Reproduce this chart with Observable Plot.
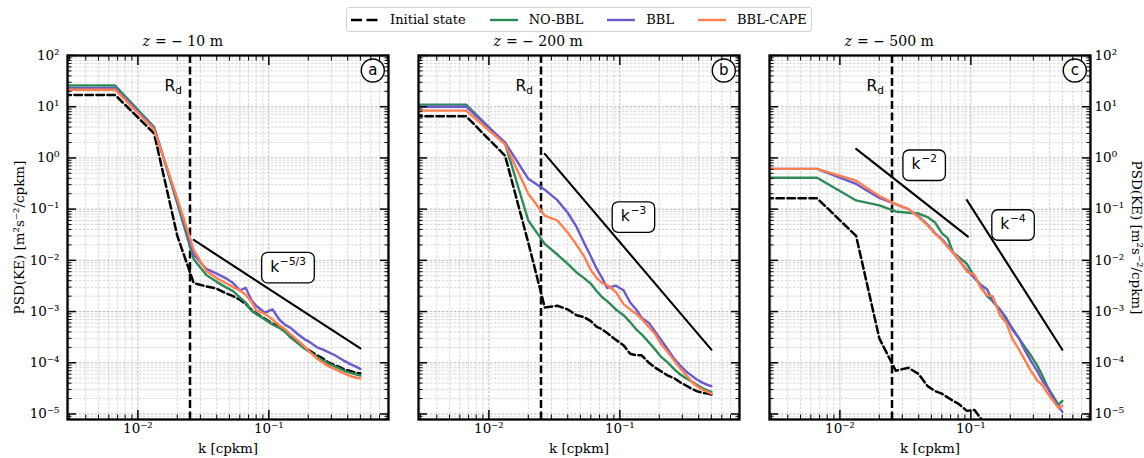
<!DOCTYPE html>
<html>
<head>
<meta charset="utf-8">
<script src="https://cdn.jsdelivr.net/npm/d3@7"></script>
<script src="https://cdn.jsdelivr.net/npm/@observablehq/plot@0.6"></script>
<style>
  html, body { margin: 0; padding: 0; background: #fff; }
  #figure { position: relative; width: 1144px; height: 458px; overflow: hidden; background: #fff; }
  #figure > svg { position: absolute; top: 0; }
  #legend {
    position: absolute; left: 346px; top: 7px; height: 25px; width: 466px; box-sizing: border-box;
    border: 1px solid #d4d4d4; border-radius: 3px; background: #fff;
    display: flex; align-items: center; padding-left: 4px; white-space: nowrap;
    font-family: "DejaVu Serif", serif; font-size: 13px; color: #000;
  }
  #legend .item { display: flex; align-items: center; margin-right: 24px; flex: none; }
  #legend .item svg { margin-right: 11px; flex: none; }
</style>
</head>
<body>
<div id="figure"></div>
<script>
// Wavenumber k [cycles per km]
const k = [0.0027, 0.0067, 0.0133, 0.02, 0.0267, 0.0333, 0.04, 0.0467, 0.0533, 0.06,
  0.0667, 0.0733, 0.08, 0.0933, 0.1067, 0.12, 0.1333, 0.1467, 0.1667, 0.1867,
  0.2067, 0.2333, 0.26, 0.2867, 0.32, 0.3533, 0.3867, 0.4267, 0.4667, 0.5];

// KE spectra at z = -10 m
const init10 = [17, 17, 3.0, 0.03, 0.0036, 0.0031, 0.0028, 0.0023, 0.002, 0.0017,
  0.0014, 0.0011, 0.00092, 0.00072, 0.00058, 0.0005, 0.00042, 0.00033, 0.00026, 0.0002,
  0.00017, 0.00014, 0.00012, 0.0001, 9e-5, 8e-5, 7.2e-5, 6.8e-5, 6.4e-5, 6.2e-5];
const noBbl10 = [26, 26, 4.0, 0.13, 0.0105, 0.0052, 0.0038, 0.003, 0.0025, 0.0019,
  0.0015, 0.00105, 0.0009, 0.0007, 0.00056, 0.00048, 0.0004, 0.00031, 0.00024, 0.00019,
  0.00016, 0.00013, 0.00011, 9.5e-5, 8.5e-5, 7.5e-5, 6.8e-5, 6.3e-5, 5.9e-5, 5.6e-5];
const bbl10 = [23, 23, 3.8, 0.15, 0.013, 0.0068, 0.0055, 0.0045, 0.0036, 0.0026,
  0.0029, 0.0017, 0.0013, 0.00095, 0.0011, 0.0007, 0.00055, 0.00048, 0.00036, 0.00029,
  0.00025, 0.0002, 0.00018, 0.00016, 0.00014, 0.00012, 0.000105, 9.2e-5, 8.3e-5, 7.6e-5];
const cape10 = [21.5, 21.5, 3.6, 0.16, 0.016, 0.0062, 0.0045, 0.0036, 0.003, 0.0026,
  0.0021, 0.0016, 0.00105, 0.0009, 0.0007, 0.00054, 0.00045, 0.00036, 0.00027, 0.00021,
  0.00016, 0.00012, 0.0001, 8.5e-5, 7.5e-5, 6.6e-5, 6e-5, 5.4e-5, 5.1e-5, 4.9e-5];

// KE spectra at z = -200 m
const init200 = [6.5, 6.5, 1.1, 0.022, 0.0012, 0.0013, 0.0011, 0.00085, 0.00078, 0.00065,
  0.0005, 0.00045, 0.00038, 0.00028, 0.00022, 0.00015, 0.00014, 0.00014, 0.0001, 8e-5,
  6.8e-5, 5.6e-5, 5e-5, 4.2e-5, 3.6e-5, 3.1e-5, 2.8e-5, 2.6e-5, 2.5e-5, 2.4e-5];
const noBbl200 = [11, 11, 1.9, 0.06, 0.021, 0.013, 0.0085, 0.0058, 0.0045, 0.0035,
  0.0025, 0.0019, 0.0016, 0.0011, 0.00085, 0.00062, 0.00045, 0.00036, 0.00025, 0.00018,
  0.00013, 0.0001, 7.5e-5, 6e-5, 5e-5, 4.3e-5, 3.7e-5, 3.2e-5, 2.9e-5, 2.7e-5];
const bbl200 = [10, 10, 2.0, 0.39, 0.24, 0.15, 0.085, 0.045, 0.022, 0.012,
  0.0068, 0.0045, 0.0029, 0.0032, 0.0026, 0.0015, 0.0011, 0.00075, 0.0006, 0.0004,
  0.00028, 0.00018, 0.00012, 9e-5, 6.8e-5, 5.6e-5, 4.7e-5, 4.1e-5, 3.7e-5, 3.5e-5];
const cape200 = [8.4, 8.4, 1.85, 0.2, 0.075, 0.06, 0.035, 0.02, 0.012, 0.0065,
  0.0045, 0.0036, 0.0033, 0.0024, 0.0014, 0.0011, 0.0009, 0.00072, 0.0005, 0.00036,
  0.00023, 0.00016, 0.00011, 8e-5, 5.8e-5, 4.3e-5, 3.5e-5, 3e-5, 2.7e-5, 2.5e-5];

// KE spectra at z = -500 m (initial state drops below the axis past k ~ 0.13)
const init500 = [0.163, 0.163, 0.03, 0.0003, 7e-5, 8e-5, 6e-5, 3.5e-5, 2.8e-5, 2.5e-5,
  2.1e-5, 1.8e-5, 1.6e-5, 1.15e-5, 1.2e-5, 8e-6, 5e-6, null, null, null,
  null, null, null, null, null, null, null, null, null, null];
const noBbl500 = [0.41, 0.41, 0.148, 0.118, 0.09, 0.085, 0.082, 0.07, 0.055, 0.034,
  0.027, 0.014, 0.012, 0.0085, 0.0048, 0.003, 0.002, 0.0016, 0.0011, 0.0007,
  0.00048, 0.0003, 0.0002, 0.00014, 9e-5, 5.5e-5, 3.3e-5, 2.2e-5, 1.5e-5, 1.8e-5];
const bbl500 = [0.61, 0.61, 0.31, 0.165, 0.125, 0.1, 0.072, 0.05, 0.034, 0.026,
  0.019, 0.014, 0.0105, 0.0065, 0.0045, 0.0033, 0.0027, 0.0016, 0.0011, 0.00075,
  0.00045, 0.0003, 0.00017, 0.00011, 7e-5, 4.4e-5, 3.2e-5, 2e-5, 1.4e-5, 1.1e-5];
const cape500 = [0.61, 0.61, 0.36, 0.18, 0.125, 0.1, 0.07, 0.048, 0.033, 0.025,
  0.018, 0.014, 0.011, 0.006, 0.0052, 0.0028, 0.0021, 0.002, 0.00085, 0.0006,
  0.0003, 0.00018, 0.00011, 7e-5, 4.6e-5, 3.6e-5, 2.5e-5, 1.8e-5, 1.3e-5, 1.45e-5];

// Power-law reference slopes (end points) and their labels
const refK10 = [0.0267, 0.5],  refV10 = [0.025, 1.9e-4];
const refK200 = [0.0267, 0.5], refV200 = [1.2, 1.8e-4];
const refK500a = [0.0133, 0.095], refV500a = [1.5, 0.029];
const refK500b = [0.0933, 0.5],  refV500b = [0.15, 1.8e-4];
const slopeExp = ["−5/3", "−3", "−2", "−4"];
const slopeLabelK = [0.14, 0.127, 0.044, 0.21];
const slopeLabelV = [0.0072, 0.07, 0.72, 0.049];

// First deformation radius wavenumber
const rossbyK = [0.025];

const seriesNames = ["Initial state", "NO-BBL", "BBL", "BBL-CAPE"];
const seriesColors = ["#000000", "#2e8b57", "#6a5acd", "#ff7f50"];
const depths = [10, 200, 500];
const panelTags = ["a", "b", "c"];
const xLabel = "k [cpkm]";
const yLabel = "PSD(KE) [m²s⁻²/cpkm]";

const xDomain = [0.0029, 0.82];
const yDomain = [7.8e-6, 100];

// ---- helpers -------------------------------------------------------------
const isDecade = t => Math.abs(Math.log10(t) - Math.round(Math.log10(t))) < 1e-6;
const xTicks = d3.scaleLog().domain(xDomain).ticks();
const yTicks = d3.scaleLog().domain(yDomain).ticks();
const xMajor = xTicks.filter(isDecade), xMinor = xTicks.filter(t => !isDecade(t));
const yMajor = yTicks.filter(isDecade), yMinor = yTicks.filter(t => !isDecade(t));

const sup = {"-": "⁻", "0": "⁰", "1": "¹", "2": "²", "3": "³", "4": "⁴", "5": "⁵", "6": "⁶", "7": "⁷", "8": "⁸", "9": "⁹"};
const pow10 = t => "10" + [...String(Math.round(Math.log10(t)))].map(c => sup[c]).join("");

const measureCtx = document.createElement("canvas").getContext("2d");
function textWidth(s, font) { measureCtx.font = font; return measureCtx.measureText(s).width; }

function roundedBox(w, h, r) {
  return {
    draw(c) {
      const x0 = -w / 2, y0 = -h / 2, x1 = w / 2, y1 = h / 2;
      c.moveTo(x0 + r, y0);
      c.lineTo(x1 - r, y0); c.arcTo(x1, y0, x1, y0 + r, r);
      c.lineTo(x1, y1 - r); c.arcTo(x1, y1, x1 - r, y1, r);
      c.lineTo(x0 + r, y1); c.arcTo(x0, y1, x0, y1 - r, r);
      c.lineTo(x0, y0 + r); c.arcTo(x0, y0, x0 + r, y0, r);
      c.closePath();
    }
  };
}

const SANS = "DejaVu Sans";
const SERIF = "DejaVu Serif";
const mid = {lineAnchor: "middle"};

function slopeAnnotation(i) {
  const kSize = 15.5, eSize = 10.5;
  const kW = textWidth("k", `${kSize}px "${SANS}"`);
  const eW = textWidth(slopeExp[i], `${eSize}px "${SANS}"`);
  const total = kW + eW + 1;
  const join = -total / 2 + kW;
  const at = [{k: slopeLabelK[i], v: slopeLabelV[i]}];
  return [
    Plot.dot(at, {x: "k", y: "v", symbol: roundedBox(total + 17, 30.5, 6), fill: "white", stroke: "black", strokeWidth: 1.3}),
    Plot.text(at, {x: "k", y: "v", text: () => "k", textAnchor: "end", ...mid, dx: join, dy: -1, fontFamily: SANS, fontSize: kSize}),
    Plot.text(at, {x: "k", y: "v", text: () => slopeExp[i], textAnchor: "start", ...mid, dx: join + 1, dy: -6.5, fontFamily: SANS, fontSize: eSize})
  ];
}

const rows = (vals) => k.map((kk, i) => ({k: kk, v: vals[i]}));
const refRows = (ks, vs) => ks.map((kk, i) => ({k: kk, v: vs[i]}));

const panels = [
  {series: [init10, noBbl10, bbl10, cape10], refs: [[refK10, refV10]], labels: [0],
   left: 0, width: 403, ml: 67, mr: 15, yAxis: "left"},
  {series: [init200, noBbl200, bbl200, cape200], refs: [[refK200, refV200]], labels: [1],
   left: 403, width: 351, ml: 15, mr: 15, yAxis: null},
  {series: [init500, noBbl500, bbl500, cape500], refs: [[refK500a, refV500a], [refK500b, refV500b]], labels: [2, 3],
   left: 754, width: 390, ml: 15, mr: 54, yAxis: "right"}
];

function drawPanel(p, idx) {
  const gridStyle = {strokeOpacity: 1, strokeWidth: 0.8, strokeDasharray: "2.5,1.5"};
  const marks = [
    Plot.gridX(xMinor, {...gridStyle, stroke: "#cdcdcd"}),
    Plot.gridY(yMinor, {...gridStyle, stroke: "#cdcdcd"}),
    Plot.gridX(xMajor, {...gridStyle, stroke: "#a9a9a9"}),
    Plot.gridY(yMajor, {...gridStyle, stroke: "#a9a9a9"}),
    Plot.ruleX(rossbyK, {stroke: "black", strokeWidth: 2.5, strokeDasharray: "8,3.5"})
  ];
  // spectra
  p.series.forEach((vals, s) => {
    marks.push(Plot.line(rows(vals), {
      x: "k", y: "v", stroke: seriesColors[s], strokeWidth: s === 0 ? 2.5 : 2.4,
      strokeDasharray: s === 0 ? "7.5,3.5" : null, clip: true
    }));
  });
  // reference power laws
  p.refs.forEach(([ks, vs]) => {
    marks.push(Plot.line(refRows(ks, vs), {x: "k", y: "v", stroke: "black", strokeWidth: 2.1, clip: true}));
  });
  p.labels.forEach(i => marks.push(...slopeAnnotation(i)));

  // R_d label next to the dashed line
  const dW = textWidth("d", `10.5px "${SANS}"`);
  marks.push(
    Plot.text(rossbyK, {x: d => d, frameAnchor: "top", dy: 31, dx: -8 - dW, text: () => "R", textAnchor: "end", ...mid, fontFamily: SANS, fontSize: 15.5}),
    Plot.text(rossbyK, {x: d => d, frameAnchor: "top", dy: 35.5, dx: -8, text: () => "d", textAnchor: "end", ...mid, fontFamily: SANS, fontSize: 10.5})
  );

  // panel tag in a circle
  marks.push(
    Plot.dot([panelTags[idx]], {frameAnchor: "top-right", dx: -15.7, dy: 15, r: 11.5, fill: "white", stroke: "black", strokeWidth: 1.4}),
    Plot.text([panelTags[idx]], {frameAnchor: "top-right", dx: -15.7, dy: 14.5, text: d => d, textAnchor: "middle", ...mid, fontFamily: SANS, fontSize: 15})
  );

  // inward ticks on all four sides
  for (const anchor of ["top", "bottom"]) {
    marks.push(Plot.axisX(xMajor, {anchor, tickSize: -9, fill: "none", label: null, strokeWidth: 1.5}));
    marks.push(Plot.axisX(xMinor, {anchor, tickSize: -4.5, fill: "none", label: null, strokeWidth: 1}));
  }
  for (const anchor of ["left", "right"]) {
    marks.push(Plot.axisY(yMajor, {anchor, tickSize: -9, fill: "none", label: null, strokeWidth: 1.5}));
    marks.push(Plot.axisY(yMinor, {anchor, tickSize: -4.5, fill: "none", label: null, strokeWidth: 1}));
  }
  // tick labels
  marks.push(Plot.axisX(xMajor, {anchor: "bottom", tickSize: 0, tickPadding: 4, stroke: "none", tickFormat: pow10, label: null}));
  if (p.yAxis === "left") {
    marks.push(Plot.axisY(yMajor, {anchor: "left", tickSize: 0, tickPadding: 8, stroke: "none", tickFormat: pow10, label: null}));
    marks.push(Plot.text([yLabel], {frameAnchor: "left", dx: -48, rotate: -90, text: d => d, textAnchor: "middle", ...mid, fontSize: 13.5}));
  } else if (p.yAxis === "right") {
    marks.push(Plot.axisY(yMajor, {anchor: "right", tickSize: 0, tickPadding: 4, stroke: "none", tickFormat: pow10, label: null}));
    marks.push(Plot.text([yLabel], {frameAnchor: "right", dx: 46, rotate: 90, text: d => d, textAnchor: "middle", ...mid, fontSize: 13.5}));
  }
  // axis label and panel title
  marks.push(
    Plot.text([xLabel], {frameAnchor: "bottom", dy: 29, text: d => d, textAnchor: "middle", ...mid, fontSize: 13.5}),
    Plot.text(["z"], {frameAnchor: "top", dx: -78, dy: -14, text: d => d, textAnchor: "end", ...mid, fontStyle: "italic", fontSize: 14}),
    Plot.text([`= − ${depths[idx]} m`], {frameAnchor: "top", dx: -73, dy: -14, text: d => d, textAnchor: "start", ...mid, fontSize: 14}),
    Plot.frame({stroke: "black", strokeWidth: 2.3})
  );

  const svg = Plot.plot({
    width: p.width, height: 458,
    marginTop: 55, marginBottom: 39, marginLeft: p.ml, marginRight: p.mr,
    x: {type: "log", domain: xDomain},
    y: {type: "log", domain: yDomain},
    style: {fontFamily: `"${SERIF}", serif`, fontSize: "13.5px", background: "transparent", color: "black", overflow: "visible"},
    marks
  });
  svg.style.left = p.left + "px";
  return svg;
}

const fig = document.getElementById("figure");
panels.forEach((p, i) => fig.appendChild(drawPanel(p, i)));

// legend
const legend = document.createElement("div");
legend.id = "legend";
seriesNames.forEach((name, i) => {
  const item = document.createElement("div");
  item.className = "item";
  const dash = i === 0 ? ' stroke-dasharray="11,4.5"' : "";
  item.innerHTML = `<svg width="28" height="10"><line x1="0" x2="28" y1="5" y2="5" stroke="${seriesColors[i]}" stroke-width="2.4"${dash}/></svg><span>${name}</span>`;
  legend.appendChild(item);
});
fig.appendChild(legend);
</script>
</body>
</html>
